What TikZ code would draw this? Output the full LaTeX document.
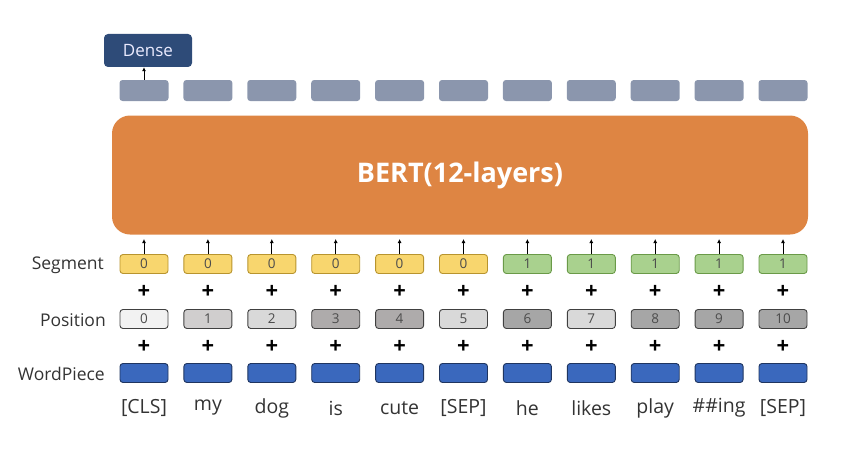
\documentclass[tikz,border=0pt]{standalone}
\usepackage{fontspec}
\setmainfont{Open Sans}
\usetikzlibrary{arrows.meta}
\definecolor{orangeB}{HTML}{DE8543}
\definecolor{topgray}{HTML}{8B96AD}
\definecolor{densebl}{HTML}{2E4B78}
\definecolor{segY}{HTML}{F8D66E}
\definecolor{segYd}{HTML}{B8942E}
\definecolor{segG}{HTML}{A9D18E}
\definecolor{segGd}{HTML}{6A9A48}
\definecolor{wpB}{HTML}{3A68BD}
\definecolor{wpBd}{HTML}{1F3560}
\definecolor{posBd}{HTML}{404040}
\begin{document}
\begin{tikzpicture}[x=1pt,y=-1pt,
  emb/.style={rounded corners=3pt, minimum width=48pt, minimum height=19pt, inner sep=0pt, line width=0.9pt, font=\fontsize{13.5}{13.5}\selectfont, text=black!70},
  segy/.style={emb, fill=segY, draw=segYd},
  segg/.style={emb, fill=segG, draw=segGd},
  posb/.style={emb, fill=#1, draw=posBd},
  wp/.style={emb, fill=wpB, draw=wpBd, minimum height=19pt},
  outb/.style={rounded corners=3pt, minimum width=49pt, minimum height=21pt, inner sep=0pt, fill=topgray},
  plus/.style={font=\fontsize{22}{22}\selectfont\bfseries, inner sep=0pt},
  word/.style={font=\fontsize{19.5}{19.5}\selectfont, text=black!80, inner sep=0pt},
  rowlab/.style={anchor=east, font=\fontsize{17.5}{17.5}\selectfont, text=black!80, inner sep=0pt},
  arr/.style={-{Latex[length=4pt,width=4pt]}, line width=0.8pt}
]
\useasboundingbox (0,0) rectangle (859,452);

\node[rounded corners=18pt, fill=orangeB, minimum width=696pt, minimum height=119pt, inner sep=0pt, text=white, font=\fontsize{27}{27}\selectfont\bfseries] (bert) at (460,175) {BERT(12-layers)};

\node[rounded corners=4pt, fill=densebl, minimum width=88pt, minimum height=33pt, inner sep=0pt, text=white!92!blue, font=\fontsize{17}{17}\selectfont] (dense) at (148,50.5) {Dense};

\node[rowlab] (lseg) at (104,265) {Segment};
\node[rowlab] (lpos) at (106,320) {Position};
\node[rowlab] (lwp) at (105,374) {WordPiece};

\foreach \i/\w/\s/\pc in {0/[CLS]/0/F2F2F2, 1/my/0/D0CECE, 2/dog/0/D9D9D9, 3/is/0/AEABAB, 4/cute/0/AEABAB, 5/[SEP]/0/D9D9D9, 6/he/1/A6A6A6, 7/likes/1/D9D9D9, 8/play/1/A6A6A6, 9/\#\#ing/1/A6A6A6, 10/[SEP]/1/A6A6A6} {
  \pgfmathsetmacro{\cx}{144+63.9*\i}
  \definecolor{pc\i}{HTML}{\pc}
  \node[outb] (o\i) at (\cx,90.5) {};
  \ifnum\s=0
    \node[segy] (s\i) at (\cx,264) {\s};
  \else
    \node[segg] (s\i) at (\cx,264) {\s};
  \fi
  \node[plus] (pa\i) at (\cx,292) {+};
  \node[posb=pc\i] (p\i) at (\cx,319) {\i};
  \node[plus] (pb\i) at (\cx,347) {+};
  \node[wp] (w\i) at (\cx,373) {};
  \node[word] (t\i) at (\cx,408) {\w};
  \coordinate (a\i) at (\cx,239);
  \draw[arr] (s\i.north) -- (a\i);
}
\draw[arr] (o0.north) -- (o0.north |- dense.south);
\end{tikzpicture}
\end{document}
